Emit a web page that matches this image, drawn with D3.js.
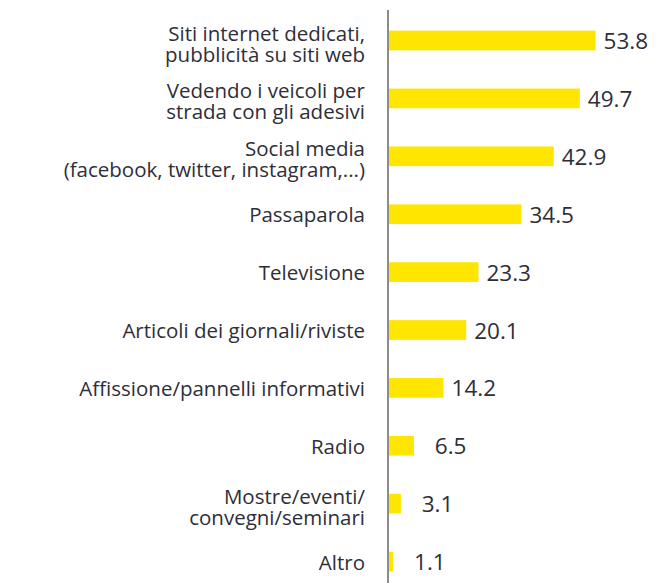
<!DOCTYPE html>
<html>
<head>
<meta charset="utf-8">
<script src="https://cdn.jsdelivr.net/npm/d3@7"></script>
<style>
  body { margin: 0; background: #fff; }
  text { font-family: "Open Sans", Roboto, "DejaVu Sans", sans-serif; fill: #2e2e38; }
</style>
</head>
<body>
<script>
// Chart data
var categories = [
  ["Siti internet dedicati,", "pubblicità su siti web"],
  ["Vedendo i veicoli per", "strada con gli adesivi"],
  ["Social media", "(facebook, twitter, instagram,...)"],
  ["Passaparola"],
  ["Televisione"],
  ["Articoli dei giornali/riviste"],
  ["Affissione/pannelli informativi"],
  ["Radio"],
  ["Mostre/eventi/", "convegni/seminari"],
  ["Altro"]
];
var values = [53.8, 49.7, 42.9, 34.5, 23.3, 20.1, 14.2, 6.5, 3.1, 1.1];

var width = 656,
  height = 583;

var svg = d3.select("body")
  .append("svg")
  .attr("width", width)
  .attr("height", height);

var x = d3.scaleLinear()
  .domain([0, 60])
  .range([389, 619.4]);

var y = d3.scaleBand()
  .domain(d3.range(categories.length))
  .range([11.55, 590.55])
  .paddingInner(0.66)
  .paddingOuter(0.33);

// pad single-digit values with a figure space, as in the original
var fmt = d3.format("\u2007>4.1f");

// Bars
svg.selectAll(".bar")
  .data(values)
  .enter()
  .append("rect")
  .attr("class", "bar")
  .attr("x", x(0))
  .attr("y", function(d, i) { return y(i); })
  .attr("width", function(d) { return x(d) - x(0); })
  .attr("height", y.bandwidth())
  .style("fill", "#ffe600");

// Value labels
svg.selectAll(".value")
  .data(values)
  .enter()
  .append("text")
  .attr("class", "value")
  .attr("x", function(d) { return x(d) + 8; })
  .attr("y", function(d, i) { return y(i) + y.bandwidth() / 2 + 8.5; })
  .style("font-size", "22.5px")
  .style("white-space", "pre")
  .text(function(d) { return fmt(d); });

// Category labels
var labels = svg.selectAll(".label")
  .data(categories)
  .enter()
  .append("text")
  .attr("class", "label")
  .attr("text-anchor", "end")
  .style("font-size", "20.5px")
  .attr("transform", function(d, i) {
    var c = y(i) + y.bandwidth() / 2;
    return "translate(365," + (d.length > 1 ? c : c + 8) + ")";
  });

labels.selectAll("tspan")
  .data(function(d) { return d; })
  .enter()
  .append("tspan")
  .attr("x", 0)
  .attr("y", function(d, j) { return j * 21; })
  .text(function(d) { return d; });

// Vertical axis line
svg.append("line")
  .attr("x1", 388)
  .attr("x2", 388)
  .attr("y1", 10)
  .attr("y2", height)
  .style("stroke", "#666")
  .style("stroke-width", 1.5);
</script>
</body>
</html>
